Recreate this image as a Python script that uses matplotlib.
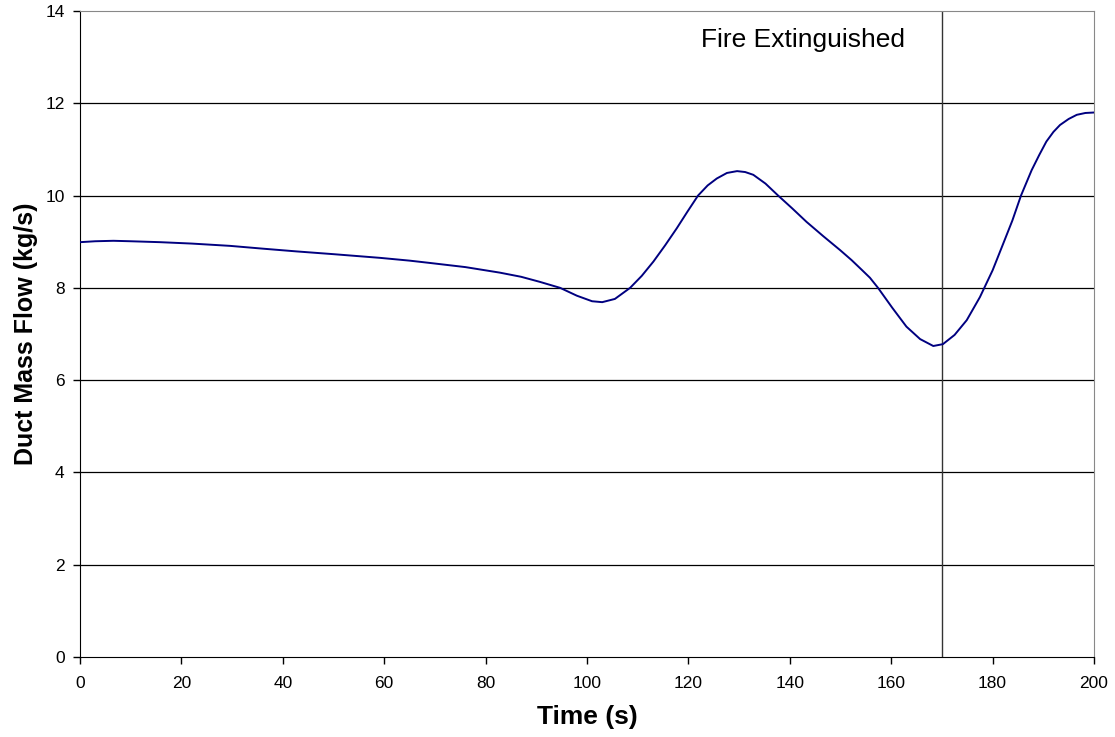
import matplotlib
matplotlib.use("Agg")
import matplotlib.pyplot as plt

plt.rcParams['font.family'] = ['Liberation Sans', 'DejaVu Sans']

time_s = [0, 3, 6.6, 10, 15.8, 22, 29.6, 36, 42.7, 50, 59.2, 65, 69, 76, 82.8,
          87, 90.7, 94.7, 98, 101, 103, 105.5, 108.5, 110.8, 113.1, 115.4, 117.7,
          119.8, 121.9, 123.8, 125.6, 127.6, 129.6, 131.2, 132.8, 135.2, 137.7,
          140.5, 143.3, 146.6, 149.9, 152.2, 154.2, 155.8, 157.4, 160.2, 163,
          165.7, 168.3, 170.2, 172.5, 174.9, 177.5, 180, 182.1, 183.9, 185.6,
          187.7, 189.2, 190.6, 192, 193.3, 195, 196.6, 198.3, 200]
mass_flow = [8.99, 9.01, 9.02, 9.01, 8.99, 8.96, 8.91, 8.85, 8.79, 8.73, 8.65,
             8.59, 8.54, 8.45, 8.33, 8.24, 8.13, 8.0, 7.83, 7.71, 7.69, 7.76,
             8.0, 8.26, 8.57, 8.92, 9.29, 9.65, 10.0, 10.22, 10.37, 10.49, 10.53,
             10.51, 10.45, 10.26, 10.0, 9.72, 9.43, 9.12, 8.82, 8.6, 8.39, 8.22,
             8.0, 7.57, 7.16, 6.89, 6.74, 6.78, 6.98, 7.3, 7.8, 8.38, 8.96, 9.46,
             10.0, 10.55, 10.88, 11.17, 11.38, 11.53, 11.66, 11.75, 11.79, 11.8]

event_x = 170
event_label = "Fire Extinguished"

fig = plt.figure(figsize=(11.15, 7.37), dpi=100)
ax = fig.add_axes([80/1115, 80/737, (1094-80)/1115, (657-11)/737])

for yv in range(2, 14, 2):
    ax.axhline(yv, color='black', lw=0.9, zorder=1)
ax.axvline(event_x, color='#333333', lw=1.0, zorder=2)
ax.plot(time_s, mass_flow, color='#000080', lw=1.4, zorder=3,
        solid_joinstyle='round', antialiased=True)
ax.text(162.7, 13.37, event_label, ha='right', va='center', fontsize=19)

ax.set_xlim(0, 200)
ax.set_ylim(0, 14)
ax.set_xticks(range(0, 201, 20))
ax.set_yticks(range(0, 15, 2))
ax.tick_params(direction='out', length=5, width=1, labelsize=12.5)
ax.tick_params(axis='x', pad=9)
ax.tick_params(axis='y', pad=6)
for s in ['top', 'right']:
    ax.spines[s].set_color('#888888')
for s in ['left', 'bottom']:
    ax.spines[s].set_color('black')
ax.set_xlabel('Time (s)', fontsize=19, fontweight='bold', labelpad=10)
ax.set_ylabel('Duct Mass Flow (kg/s)', fontsize=18, fontweight='bold', labelpad=5)

fig.savefig('out.png', dpi=100)
